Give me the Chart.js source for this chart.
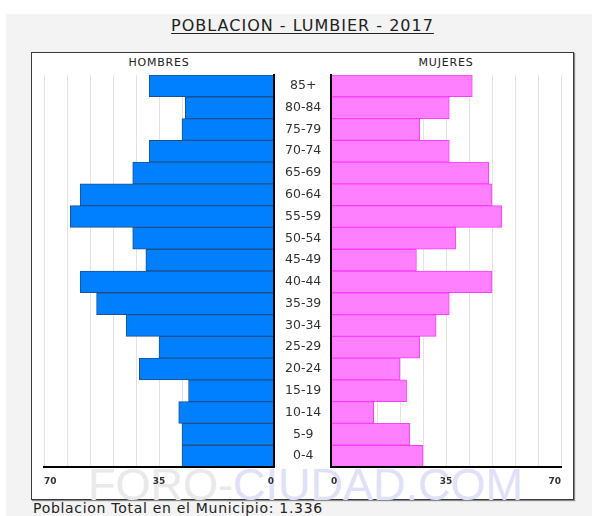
<!DOCTYPE html>
<html>
<head>
<meta charset="utf-8">
<script src="https://cdn.jsdelivr.net/npm/chart.js@4.4.1/dist/chart.umd.min.js"></script>
<style>
  html, body { margin: 0; padding: 0; background: #ffffff; width: 592px; height: 516px; overflow: hidden; position: relative; font-family: 'DejaVu Sans', Verdana, sans-serif; }
  #bg { position: absolute; left: 6px; top: 14px; width: 586px; height: 502px; background: #f3f3f3; }
  #title { position: absolute; left: 31px; width: 543px; top: 18px; text-align: center; font-size: 16px; line-height: 16px; letter-spacing: 1px; color: #222; }
  #title span { text-decoration: underline; text-underline-offset: 2px; }
  #panel { position: absolute; left: 31px; top: 52px; width: 543px; height: 448px; box-sizing: border-box; background: #fff; border: 1px solid #3a3a3a; box-shadow: 1px 1px 1px #8a8a8a; }
  #wm { position: absolute; left: 88px; top: 462px; font-family: 'Liberation Sans', Arial, sans-serif; font-size: 45px; line-height: 45px; white-space: nowrap; }
  #wm .a { color: #e9e9e9; }
  #wm .b { color: #e0e0f9; }
  .side { position: absolute; top: 57px; font-size: 11px; line-height: 11px; letter-spacing: 0.8px; color: #222; transform: translateX(-50%); white-space: nowrap; }
  #footer { position: absolute; left: 33px; top: 501px; font-size: 14px; line-height: 14px; letter-spacing: 0.7px; color: #222; white-space: nowrap; }
  canvas { position: absolute; }
  #cL { left: 24px; top: 55px; }
  #cR { left: 311px; top: 55px; }
</style>
</head>
<body>
<div id="bg"></div>
<div id="title"><span>POBLACION - LUMBIER - 2017</span></div>
<div id="panel"></div>
<div id="wm"><span class="a">FORO-</span><span class="b">CIUDAD.COM</span></div>
<div class="side" style="left:159px">HOMBRES</div>
<div class="side" style="left:446px">MUJERES</div>
<canvas id="cL" width="310" height="435"></canvas>
<canvas id="cR" width="270" height="435"></canvas>
<div id="footer">Poblacion Total en el Municipio: 1.336</div>
<script>
const categories = ['85+','80-84','75-79','70-74','65-69','60-64','55-59','50-54','45-49','40-44','35-39','30-34','25-29','20-24','15-19','10-14','5-9','0-4'];
const hombres = [38,27,28,38,43,59,62,43,39,59,54,45,35,41,26,29,28,28];
const mujeres = [43,36,27,36,48,49,52,38,26,49,36,32,27,21,23,13,24,28];
const axisMax = 70;
const gridStep = 7;
const labeledTicks = [0, 35, 70];

Chart.defaults.font.family = "'DejaVu Sans', Verdana, sans-serif";
Chart.defaults.animation = false;

function xAxis(min, max) {
  return {
    type: 'linear',
    min: min,
    max: max,
    grid: { color: '#e3e3e3', lineWidth: 1, drawTicks: false },
    border: { display: true, color: '#000', width: 2, z: 1 },
    ticks: {
      stepSize: gridStep,
      autoSkip: false,
      maxRotation: 0,
      align: 'inner',
      padding: 9.3,
      color: '#333',
      font: { size: 9, weight: 'bold' },
      callback: v => labeledTicks.includes(Math.abs(v)) ? String(Math.abs(v)) : ''
    },
    afterFit: s => { s.height = 23; }
  };
}

// Men are plotted leftwards: the library gets the negated values, labels show absolute values
new Chart(document.getElementById('cL'), {
  type: 'bar',
  data: {
    labels: categories,
    datasets: [{
      data: hombres.map(v => -v),
      backgroundColor: '#0080ff',
      borderColor: '#1f4f8c',
      borderWidth: 1,
      barPercentage: 1,
      categoryPercentage: 1
    }]
  },
  options: {
    indexAxis: 'y',
    responsive: false,
    events: [],
    layout: { padding: { top: 20, left: 20, right: 3, bottom: 0 } },
    plugins: { legend: { display: false }, tooltip: { enabled: false } },
    scales: {
      x: xAxis(-axisMax, 0),
      y: {
        type: 'category',
        position: 'right',
        grid: { display: false, drawTicks: false },
        border: { display: true, color: '#000', width: 2, z: 1 },
        ticks: { crossAlign: 'center', padding: 11, color: '#333', font: { size: 12.5 } },
        afterFit: s => { s.width = 57; }
      }
    }
  }
});

new Chart(document.getElementById('cR'), {
  type: 'bar',
  data: {
    labels: categories,
    datasets: [{
      data: mujeres,
      backgroundColor: '#ff80ff',
      borderColor: '#ff3cff',
      borderWidth: 1,
      barPercentage: 1,
      categoryPercentage: 1
    }]
  },
  options: {
    indexAxis: 'y',
    responsive: false,
    events: [],
    layout: { padding: { top: 20, left: 20, right: 20, bottom: 0 } },
    plugins: { legend: { display: false }, tooltip: { enabled: false } },
    scales: {
      x: xAxis(0, axisMax),
      y: {
        type: 'category',
        position: 'left',
        grid: { display: false, drawTicks: false },
        border: { display: true, color: '#000', width: 2, z: 1 },
        ticks: { display: false },
        afterFit: s => { s.width = 0; }
      }
    }
  }
});
</script>
</body>
</html>
